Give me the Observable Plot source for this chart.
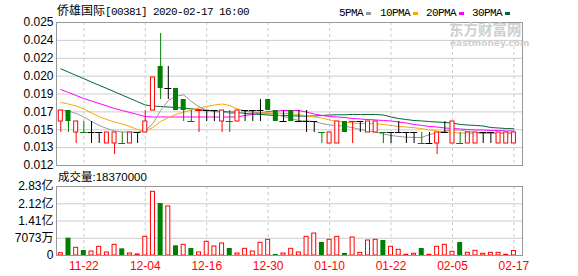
<!DOCTYPE html>
<html><head><meta charset="utf-8">
<script src="https://cdn.jsdelivr.net/npm/d3@7"></script>
<script src="https://cdn.jsdelivr.net/npm/@observablehq/plot@0.6"></script>
<style>
body{margin:0;background:#fff;}
#wrap{position:relative;width:578px;height:276px;overflow:hidden;background:#fff;}
.abs{position:absolute;white-space:nowrap;line-height:1;}
.mono{font-family:"Liberation Mono",monospace;font-size:11px;letter-spacing:-0.6px;color:#000;}
.cjk{font-family:"Noto Sans CJK SC",sans-serif;font-size:12px;color:#000;}
svg{position:absolute;left:0;}
</style></head><body><div id="wrap"></div>
<script>
const stockName = "侨雄国际";
const titleRest = "[00381] 2020-02-17 16:00";
const legendLabels = ["5PMA","10PMA","20PMA","30PMA"];
const volumeLabel = "成交量:18370000";
const dates = ["11-19","11-20","11-21","11-22","11-25","11-26","11-27","11-28","11-29","12-02","12-03","12-04","12-05","12-06","12-09","12-10","12-11","12-12","12-13","12-16","12-17","12-18","12-19","12-20","12-23","12-24","12-27","12-30","12-31","01-02","01-03","01-06","01-07","01-08","01-09","01-10","01-13","01-14","01-15","01-16","01-17","01-20","01-21","01-22","01-23","01-24","01-29","01-30","01-31","02-03","02-04","02-05","02-06","02-07","02-10","02-11","02-12","02-13","02-14","02-17"];
const open  = [.016,.017,.015,.015,.015,.015,.014,.014,.014,.014,.015,.015,.017,.021,.019,.019,.018,.016,.017,.017,.017,.016,.016,.016,.017,.017,.017,.018,.017,.016,.017,.016,.016,.016,.015,.014,.014,.016,.016,.016,.015,.015,.015,.015,.015,.015,.015,.014,.014,.014,.015,.014,.014,.014,.014,.015,.015,.014,.014,.014];
const high  = [.017,.017,.016,.016,.016,.015,.015,.015,.015,.015,.015,.017,.020,.024,.021,.019,.018,.017,.017,.017,.017,.017,.017,.017,.017,.017,.018,.018,.017,.017,.017,.017,.017,.016,.015,.015,.016,.016,.016,.016,.016,.016,.015,.015,.016,.015,.015,.015,.015,.015,.016,.016,.015,.015,.015,.015,.015,.015,.015,.015];
const low   = [.015,.015,.014,.015,.014,.014,.014,.013,.014,.014,.014,.015,.017,.018,.018,.017,.016,.016,.015,.016,.016,.015,.015,.016,.016,.016,.016,.017,.016,.016,.016,.016,.015,.015,.014,.014,.014,.015,.014,.015,.015,.015,.014,.014,.015,.014,.014,.014,.014,.013,.015,.014,.014,.014,.014,.014,.014,.014,.014,.014];
const close = [.017,.016,.016,.015,.015,.015,.015,.015,.014,.015,.015,.016,.020,.019,.019,.017,.017,.016,.017,.017,.017,.017,.016,.017,.017,.017,.017,.017,.016,.016,.016,.016,.016,.016,.015,.015,.016,.015,.016,.016,.016,.016,.015,.015,.015,.015,.015,.014,.014,.015,.015,.016,.014,.015,.015,.015,.015,.015,.015,.015];
const ma5  = [0.01705,0.01695,0.01673,0.01641,0.01600,0.01564,0.01536,0.01514,0.01505,0.01503,0.01503,0.01518,0.01582,0.01700,0.01791,0.01832,0.01841,0.01782,0.01732,0.01705,0.01691,0.01685,0.01677,0.01673,0.01691,0.01686,0.01677,0.01673,0.01664,0.01645,0.01627,0.01609,0.01605,0.01600,0.01582,0.01568,0.01564,0.01555,0.01545,0.01527,0.01514,0.01503,0.01486,0.01473,0.01464,0.01457,0.01455,0.01455,0.01482,0.01495,0.01514,0.01523,0.01523,0.01509,0.01500,0.01494,0.01494,0.01494,0.01494,0.01494];
const ma10 = [0.01773,0.01759,0.01741,0.01714,0.01677,0.01645,0.01618,0.01595,0.01577,0.01555,0.01527,0.01514,0.01545,0.01600,0.01636,0.01664,0.01686,0.01705,0.01723,0.01736,0.01750,0.01759,0.01745,0.01714,0.01695,0.01685,0.01682,0.01679,0.01677,0.01673,0.01670,0.01664,0.01650,0.01641,0.01632,0.01614,0.01600,0.01595,0.01586,0.01582,0.01579,0.01579,0.01573,0.01564,0.01555,0.01550,0.01543,0.01536,0.01523,0.01514,0.01505,0.01500,0.01495,0.01494,0.01494,0.01494,0.01494,0.01494,0.01494,0.01494];
const ma20 = [0.01891,0.01864,0.01836,0.01809,0.01786,0.01764,0.01741,0.01718,0.01700,0.01682,0.01664,0.01645,0.01641,0.01641,0.01641,0.01641,0.01641,0.01641,0.01641,0.01641,0.01641,0.01641,0.01641,0.01641,0.01655,0.01664,0.01677,0.01691,0.01695,0.01700,0.01700,0.01700,0.01686,0.01668,0.01655,0.01645,0.01641,0.01636,0.01627,0.01623,0.01618,0.01614,0.01609,0.01605,0.01595,0.01586,0.01573,0.01564,0.01555,0.01550,0.01541,0.01536,0.01532,0.01527,0.01523,0.01523,0.01518,0.01518,0.01514,0.01514];
const ma30 = [0.02079,0.02049,0.02019,0.01989,0.01959,0.01929,0.01900,0.01870,0.01840,0.01810,0.01780,0.01750,0.01741,0.01736,0.01732,0.01727,0.01721,0.01715,0.01709,0.01700,0.01695,0.01691,0.01686,0.01685,0.01673,0.01668,0.01664,0.01659,0.01655,0.01655,0.01652,0.01650,0.01648,0.01650,0.01655,0.01659,0.01661,0.01661,0.01664,0.01664,0.01664,0.01664,0.01659,0.01641,0.01627,0.01618,0.01609,0.01605,0.01600,0.01595,0.01591,0.01586,0.01573,0.01568,0.01564,0.01559,0.01545,0.01541,0.01536,0.01534];
const volume = [9400000,71000000,31500000,20500000,16400000,35600000,12300000,43700000,27300000,8200000,4100000,76500000,261000000,213000000,201000000,39800000,43900000,28700000,12300000,56200000,36900000,49200000,28700000,8200000,27400000,16400000,52000000,64300000,4100000,8200000,27400000,12300000,76500000,90000000,53300000,64300000,76500000,8200000,73800000,11000000,61500000,64300000,61500000,35700000,23400000,2900000,7000000,28700000,2900000,35700000,43900000,15200000,53300000,11000000,19300000,7000000,11000000,11000000,2900000,18370000];
const yTickValues = [0.012,0.013625,0.01525,0.016875,0.0185,0.020125,0.02175,0.023375,0.025];
const yTickLabels = ["0.012","0.013","0.015","0.017","0.019","0.020","0.022","0.024","0.025"];
const volTickValues = [0,70730000,141460000,212190000,282920000];
const volTickLabels = ["0","7073万","1.41亿","2.12亿","2.83亿"];
const xTickDates = ["11-22","12-04","12-16","12-30","01-10","01-22","02-05","02-17"];

const RED = "#ff0000", GREEN = "#008000", BLACK = "#000000";
const maColors = ["#999999","#ffa500","#ff00ff","#006633"];

const rows = dates.map((d, i) => ({
  date: d, open: open[i], high: high[i], low: low[i], close: close[i],
  prev: i > 0 ? close[i-1] : open[i], vol: volume[i],
  ma5: ma5[i], ma10: ma10[i], ma20: ma20[i], ma30: ma30[i]
}));
const candleColor = r => r.close > r.open ? RED : r.close < r.open ? GREEN
  : (r.close > r.prev ? RED : r.close < r.prev ? GREEN : BLACK);
const upRows = rows.filter(r => r.close > r.open);
const downRows = rows.filter(r => r.close < r.open);
const dojiRows = rows.filter(r => r.close === r.open);
const volDown = rows.filter(r => r.close < r.prev);
const volUp = rows.filter(r => !(r.close < r.prev));

const font = '"Liberation Sans", Arial, "Noto Sans CJK SC", sans-serif';
const xScale = {type: "band", domain: dates, range: [56.46, 517.26], padding: 0, axis: null, label: null};
const yLab = new Map(yTickValues.map((v, i) => [v, yTickLabels[i]]));
const vLab = new Map(volTickValues.map((v, i) => [v, volTickLabels[i]]));

const main = Plot.plot({
  width: 578, height: 170,
  marginLeft: 56, marginRight: 56, marginTop: 22, marginBottom: 5,
  style: {fontFamily: font, fontSize: "12px", color: "#000", background: "transparent", overflow: "visible"},
  x: xScale,
  y: {domain: [0.012, 0.025], axis: null, label: null},
  marks: [
    Plot.ruleY(yTickValues, {stroke: "#cccccc"}),
    Plot.ruleX(xTickDates, {x: d => d, stroke: "#cccccc", strokeDasharray: "3,3"}),
    Plot.line(rows, {x: "date", y: "ma30", stroke: maColors[3], strokeWidth: 1}),
    Plot.line(rows, {x: "date", y: "ma20", stroke: maColors[2], strokeWidth: 1}),
    Plot.line(rows, {x: "date", y: "ma10", stroke: maColors[1], strokeWidth: 1}),
    Plot.line(rows, {x: "date", y: "ma5", stroke: maColors[0], strokeWidth: 1}),
    Plot.ruleX(rows, {x: "date", y1: "low", y2: "high", stroke: candleColor, strokeWidth: 1}),
    Plot.barY(upRows, {x: "date", y1: "open", y2: "close", fill: "white", stroke: RED, strokeWidth: 1, insetLeft: 1.84, insetRight: 1.84}),
    Plot.barY(downRows, {x: "date", y1: "open", y2: "close", fill: GREEN, insetLeft: 1.34, insetRight: 1.34}),
    Plot.tickY(dojiRows, {x: "date", y: "close", stroke: candleColor, strokeWidth: 1, insetLeft: 0.34, insetRight: 0.34}),
    Plot.frame({stroke: "#999999"}),
    Plot.axisY(yTickValues, {tickSize: 0, tickPadding: 3, fontSize: 12, label: null, tickFormat: d => yLab.get(d)})
  ]
});
main.style.top = "0px";

const vol = Plot.plot({
  width: 578, height: 106,
  marginLeft: 56, marginRight: 56, marginTop: 16, marginBottom: 21,
  style: {fontFamily: font, fontSize: "12px", color: "#000", background: "transparent", overflow: "visible"},
  x: xScale,
  y: {domain: [0, 282920000], axis: null, label: null},
  marks: [
    Plot.ruleY(volTickValues, {stroke: "#cccccc"}),
    Plot.ruleX(xTickDates, {x: d => d, stroke: "#cccccc", strokeDasharray: "3,3"}),
    Plot.barY(volUp, {x: "date", y: "vol", fill: "white", stroke: RED, strokeWidth: 1, insetLeft: 1.84, insetRight: 1.84}),
    Plot.barY(volDown, {x: "date", y: "vol", fill: GREEN, insetLeft: 1.34, insetRight: 1.34}),
    Plot.frame({stroke: "#999999"}),
    Plot.axisY(volTickValues, {tickSize: 0, tickPadding: 3, fontSize: 12, label: null, tickFormat: d => vLab.get(d)}),
    Plot.axisX(xTickDates, {tickSize: 0, tickPadding: 6, fontSize: 12, label: null, color: RED})
  ]
});
vol.style.top = "170px";

const wrap = document.getElementById("wrap");
wrap.appendChild(main);
wrap.appendChild(vol);

function addDiv(html, left, top, cls, style) {
  const el = document.createElement("div");
  el.className = "abs " + (cls || "");
  el.style.left = left + "px"; el.style.top = top + "px";
  if (style) Object.assign(el.style, style);
  el.innerHTML = html;
  wrap.appendChild(el);
  return el;
}
// title
addDiv('<span class="cjk">' + stockName + '</span><span class="mono">' + titleRest + '</span>', 57, 2, "");
// legend
const legendX = [339, 380, 426, 472];
legendLabels.forEach((lab, i) => {
  addDiv('<span class="mono">' + lab + '</span><span style="display:inline-block;width:5px;height:3px;margin-left:3px;vertical-align:1px;background:' + maColors[i] + '"></span>', legendX[i], 3, "");
});
// watermark
addDiv("东方财富网", 449, 22, "", {fontFamily: '"Noto Sans CJK SC", sans-serif', fontSize: "14.5px", fontWeight: "bold", color: "#cfcfcf"});
addDiv("eastmoney.com", 450, 39, "", {fontFamily: '"DejaVu Sans", sans-serif', fontSize: "9px", fontWeight: "bold", color: "#cfcfcf"});
// volume label
addDiv(volumeLabel, 58, 172, "", {fontFamily: font, fontSize: "11.5px", color: "#000"});
</script>
</body></html>
